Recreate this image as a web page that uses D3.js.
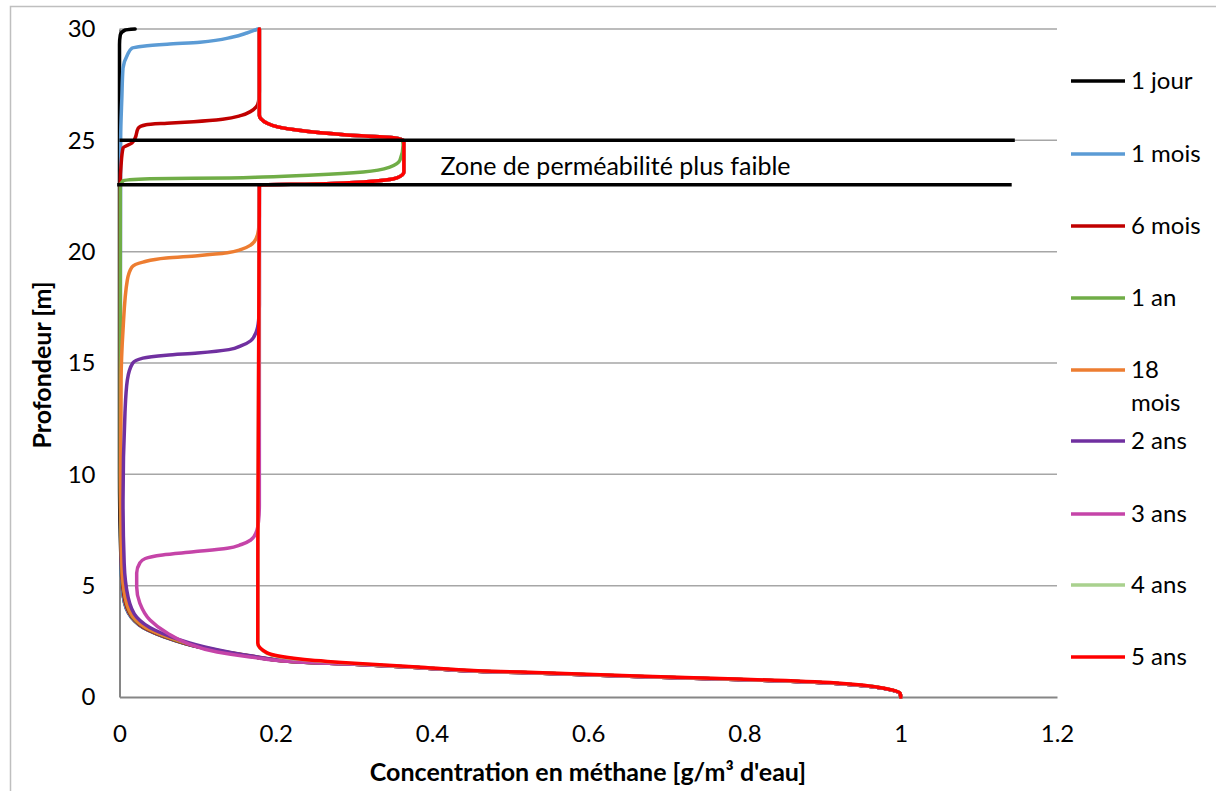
<!DOCTYPE html>
<html>
<head>
<meta charset="utf-8">
<script src="https://cdn.jsdelivr.net/npm/d3@7"></script>
<style>
  html, body { margin: 0; padding: 0; background: #fff; }
  svg { display: block; font-family: Lato, "Open Sans", sans-serif; }
</style>
</head>
<body>
<svg id="chart" width="1216" height="791"></svg>
<script>
// Methane concentration profiles vs depth, one series per elapsed time.
// Each point is [depth (m), concentration (g/m³ of water)].

const seriesNames = ["1 jour", "1 mois", "6 mois", "1 an", "18 mois", "2 ans", "3 ans", "4 ans", "5 ans"];
const seriesColors = ["#000000", "#5b9bd5", "#c00000", "#70ad47", "#ed7d31", "#7030a0", "#c544a8", "#a9d18e", "#ff0000"];

const xTicks = [0, 0.2, 0.4, 0.6, 0.8, 1, 1.2];
const yTicks = [0, 5, 10, 15, 20, 25, 30];

// Upper part of the profile once the top is saturated (through the low-permeability layer)
const saturatedTop = [
  [30, 0.179], [26.13, 0.179], [25.77, 0.189], [25.46, 0.227], [25.24, 0.291],
  [25.10, 0.355], [25.01, 0.363], [24.97, 0.364], [23.58, 0.364], [23.31, 0.355],
  [23.13, 0.312], [23.04, 0.248], [23.0, 0.184], [22.95, 0.179]
];

// Lower part of the profile, near the source at the base
const sourceTail = [
  [1.48, 0.295], [1.33, 0.381], [1.15, 0.465], [1.06, 0.551], [0.92, 0.662],
  [0.79, 0.790], [0.61, 0.918], [0.44, 0.969], [0.30, 0.990], [0.17, 0.999], [0, 1]
];

const jour1 = [
  [30, 0.020], [29.95, 0.007], [29.73, 0.001], [29.3, 0.0], [10, 0.0],
  [6, 0.002], [4.49, 0.005], [3.59, 0.015], [3.01, 0.036], [2.69, 0.058],
  [2.25, 0.100], [1.84, 0.165], [1.57, 0.230], ...sourceTail
];

const mois1 = [
  [30, 0.177], [29.82, 0.163], [29.64, 0.145], [29.41, 0.103], [29.32, 0.061],
  [29.23, 0.030], [29.14, 0.016], [28.83, 0.010], [28.24, 0.0045], [26.9, 0.003],
  [25.1, 0.0015], [10, 0.001], [6, 0.002], [4.49, 0.005], [3.59, 0.015],
  [3.01, 0.036], [2.69, 0.058], [2.25, 0.100], [1.84, 0.165], [1.57, 0.230], ...sourceTail
];

const mois6 = [
  [30, 0.179], [27.2, 0.179], [26.75, 0.178], [26.5, 0.175], [26.3, 0.168],
  [26.12, 0.156], [25.95, 0.132], [25.84, 0.095], [25.77, 0.061], [25.70, 0.034],
  [25.55, 0.024], [25.10, 0.020], [24.88, 0.016], [24.65, 0.0045], [23.89, 0.002],
  [23.13, 0.001], [10, 0.001], [6, 0.0025], [4.49, 0.006], [3.59, 0.016],
  [3.01, 0.037], [2.69, 0.059], [2.25, 0.101], [1.84, 0.166], [1.57, 0.230], ...sourceTail
];

const an1 = [
  [30, 0.179], [26.13, 0.179], [25.77, 0.189], [25.46, 0.227], [25.24, 0.291],
  [25.10, 0.355], [25.01, 0.362], [24.79, 0.363], [24.11, 0.359], [23.80, 0.346],
  [23.58, 0.312], [23.44, 0.248], [23.35, 0.184], [23.31, 0.141], [23.27, 0.039],
  [23.18, 0.0045], [22.95, 0.001], [10, 0.001], [6, 0.003], [4.49, 0.007],
  [3.59, 0.017], [3.01, 0.039], [2.69, 0.061], [2.25, 0.103], [1.84, 0.167],
  [1.57, 0.231], ...sourceTail
];

const mois18 = [
  ...saturatedTop,
  [21.6, 0.179], [21.0, 0.178], [20.6, 0.175], [20.3, 0.168], [20.1, 0.156],
  [19.95, 0.138], [19.82, 0.100], [19.72, 0.060], [19.53, 0.030], [19.31, 0.016],
  [18.72, 0.010], [16.48, 0.0045], [14.23, 0.002], [10, 0.0015], [6, 0.003],
  [4.49, 0.0075], [3.59, 0.018], [3.01, 0.040], [2.69, 0.063], [2.25, 0.105],
  [1.84, 0.168], [1.57, 0.231], ...sourceTail
];

const ans2 = [
  ...saturatedTop,
  [17.6, 0.179], [16.9, 0.178], [16.4, 0.175], [16.0, 0.168], [15.78, 0.156],
  [15.6, 0.140], [15.45, 0.100], [15.35, 0.060], [15.22, 0.030], [15.0, 0.017],
  [14.23, 0.010], [12.75, 0.007], [8.85, 0.0045], [6, 0.006], [4.49, 0.011],
  [3.59, 0.022], [3.01, 0.045], [2.69, 0.067], [2.25, 0.109], [1.84, 0.170],
  [1.57, 0.232], ...sourceTail
];

const ans3 = [
  ...saturatedTop,
  [8.6, 0.179], [7.9, 0.178], [7.4, 0.175], [7.05, 0.168], [6.85, 0.156],
  [6.68, 0.138], [6.52, 0.095], [6.38, 0.055], [6.22, 0.033], [6.02, 0.026],
  [5.57, 0.022], [4.94, 0.022], [4.22, 0.026], [3.46, 0.039], [2.87, 0.061],
  [2.42, 0.086], [2.02, 0.125], [1.80, 0.167], [1.57, 0.231], ...sourceTail
];

const ans4 = [
  ...saturatedTop,
  [2.40, 0.177], [1.96, 0.189], [1.69, 0.231], [1.51, 0.295], [1.34, 0.381],
  [1.16, 0.465], [1.07, 0.551], [0.93, 0.662], [0.80, 0.790], [0.62, 0.918],
  [0.45, 0.969], [0.31, 0.990], [0.18, 0.999], [0, 1]
];

const ans5 = [
  ...saturatedTop,
  [2.42, 0.177], [1.98, 0.189], [1.71, 0.231], [1.53, 0.295], [1.35, 0.381],
  [1.17, 0.465], [1.08, 0.551], [0.94, 0.662], [0.81, 0.790], [0.63, 0.918],
  [0.45, 0.969], [0.31, 0.990], [0.18, 0.999], [0, 1]
];

const seriesData = [jour1, mois1, mois6, an1, mois18, ans2, ans3, ans4, ans5];

// Boundaries of the low-permeability layer: [depth, from concentration, to concentration]
const layerBounds = [[25, 0.0, 1.146], [23, -0.003, 1.142]];
const layerLabel = "Zone de perméabilité plus faible";
const layerLabelPos = [0.411, 23.45]; // [concentration, depth] of the label baseline start

const svg = d3.select("#chart");

// Outer chart frame
svg.append("rect")
  .attr("x", 10.5).attr("y", 6.5)
  .attr("width", 1220).attr("height", 800)
  .attr("fill", "none").attr("stroke", "#bfbfbf").attr("stroke-width", 1.5);

const x = d3.scaleLinear().domain([0, 1.2]).range([119.5, 1057]);
const y = d3.scaleLinear().domain([0, 30]).range([697, 29]);

// Horizontal gridlines
svg.append("g")
  .selectAll("line")
  .data(yTicks.filter(d => d > 0))
  .join("line")
  .attr("x1", x(0)).attr("x2", x(1.2))
  .attr("y1", d => y(d)).attr("y2", d => y(d))
  .attr("stroke", "#a6a6a6").attr("stroke-width", 1.5);

// Axes
const xAxis = svg.append("g")
  .attr("transform", `translate(0,${y(0)})`)
  .call(d3.axisBottom(x).tickValues(xTicks).tickSize(0).tickPadding(28).tickFormat(d3.format("")));
const yAxis = svg.append("g")
  .attr("transform", `translate(${x(0)},0)`)
  .call(d3.axisLeft(y).tickValues(yTicks).tickSize(0).tickPadding(24));

[xAxis, yAxis].forEach(g => {
  g.select(".domain").attr("stroke", "#868686").attr("stroke-width", 2);
  g.selectAll("text").attr("font-family", "Lato, sans-serif").attr("font-size", 24).attr("fill", "#000");
});

// Axis titles
svg.append("text")
  .attr("x", 588).attr("y", 781)
  .attr("text-anchor", "middle")
  .attr("font-size", 25).attr("font-weight", "bold")
  .text("Concentration en méthane [g/m³ d'eau]");

svg.append("text")
  .attr("transform", "translate(51,365) rotate(-90)")
  .attr("text-anchor", "middle")
  .attr("font-size", 25).attr("font-weight", "bold")
  .text("Profondeur [m]");

// Profiles
const line = d3.line()
  .x(d => x(d[1]))
  .y(d => y(d[0]))
  .curve(d3.curveMonotoneY);

svg.append("g")
  .selectAll("path")
  .data(seriesData)
  .join("path")
  .attr("d", line)
  .attr("fill", "none")
  .attr("stroke", (d, i) => seriesColors[i])
  .attr("stroke-width", 3.5)
  .attr("stroke-linejoin", "round")
  .attr("stroke-linecap", "round");

// Low-permeability layer boundaries and label
svg.append("g")
  .selectAll("line")
  .data(layerBounds)
  .join("line")
  .attr("x1", d => x(d[1])).attr("x2", d => x(d[2]))
  .attr("y1", d => y(d[0])).attr("y2", d => y(d[0]))
  .attr("stroke", "#000").attr("stroke-width", 3.5);

svg.append("text")
  .attr("x", x(layerLabelPos[0])).attr("y", y(layerLabelPos[1]))
  .attr("font-size", 25)
  .attr("fill", "#000")
  .text(layerLabel);

// Legend
const legendY = [81, 154, 226, 298, 370, 441, 514, 585, 657];
const legend = svg.append("g")
  .selectAll("g")
  .data(seriesNames)
  .join("g")
  .attr("transform", (d, i) => `translate(1071,${legendY[i]})`);

legend.append("line")
  .attr("x1", 0).attr("x2", 54)
  .attr("stroke", (d, i) => seriesColors[i])
  .attr("stroke-width", 3.5);

legend.append("text")
  .attr("font-size", 24)
  .each(function(d) {
    const parts = d === "18 mois" ? ["18", "mois"] : [d];
    const t = d3.select(this);
    parts.forEach((p, j) => {
      t.append("tspan").attr("x", 60).attr("dy", j === 0 ? "0.35em" : 33).text(p);
    });
  });
</script>
</body>
</html>
